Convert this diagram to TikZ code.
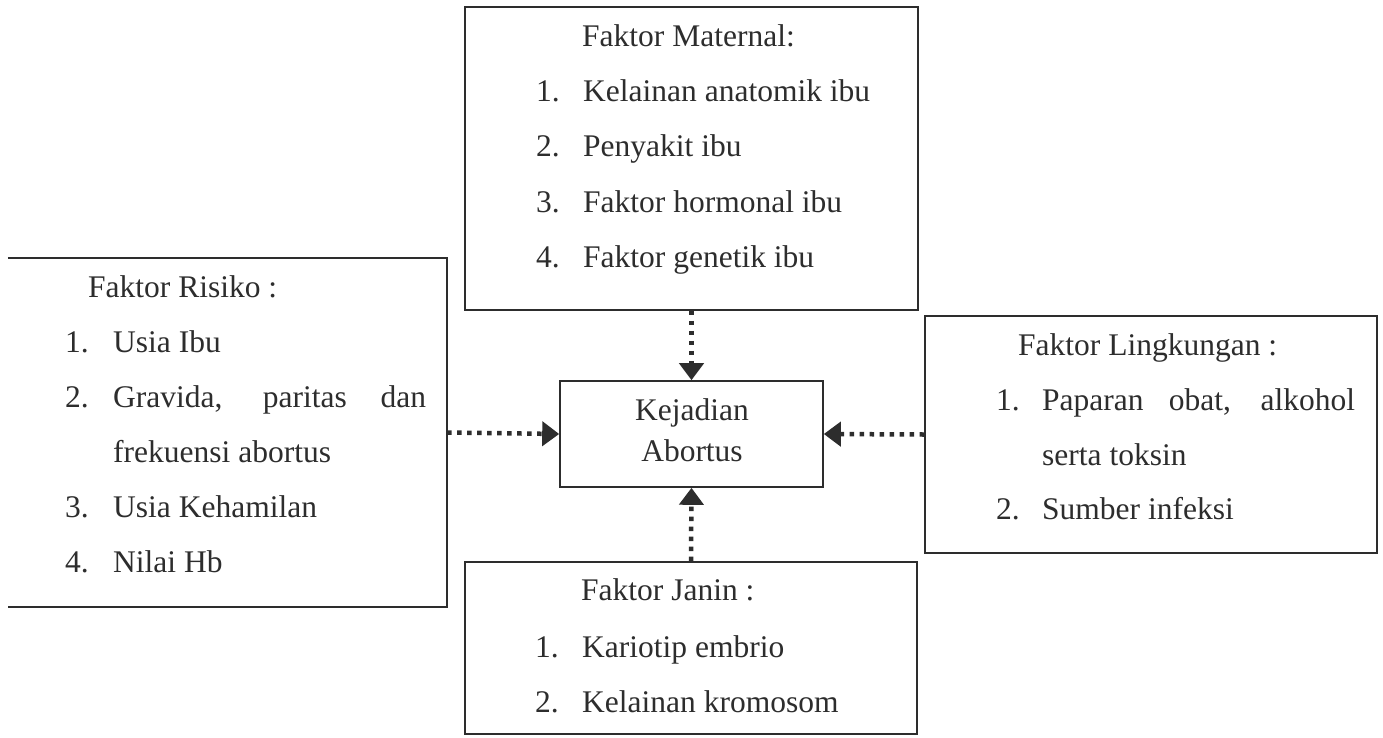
\documentclass[tikz,border=0pt]{standalone}
\usepackage{fontspec}
\setmainfont{Liberation Serif}
\usetikzlibrary{arrows.meta}
\definecolor{ink}{RGB}{45,45,45}
\begin{document}
\begin{tikzpicture}[x=1pt,y=-1pt,
  boxnode/.style={draw=ink,line width=1.6pt,rectangle,inner sep=0pt},
  txt/.style={anchor=base west,inner sep=0pt,text=ink,font=\fontsize{31.5pt}{40pt}\selectfont},
  ctxt/.style={anchor=base,inner sep=0pt,text=ink,font=\fontsize{31.5pt}{40pt}\selectfont},
  dotarrow/.style={draw=ink,line width=4.5pt,dash pattern=on 4.5pt off 5.5pt,
    -{Triangle[length=17pt,width=24pt,fill=ink]}}]
\useasboundingbox (0,0) rectangle (1383,737);
\fill[white] (0,0) rectangle (1383,737);
% boxes
\node[boxnode,minimum width=453pt,minimum height=303pt] (mat) at (691.5,158.5) {};
\node[inner sep=0pt,minimum width=439pt,minimum height=349pt] (risk) at (227.5,432.5) {};
\draw[ink,line width=1.6pt] (risk.north west) -- (risk.north east) -- (risk.south east) -- (risk.south west);
\node[boxnode,minimum width=263pt,minimum height=106pt] (ka) at (691.5,434) {};
\node[boxnode,minimum width=452pt,minimum height=237pt] (ling) at (1151,434.5) {};
\node[boxnode,minimum width=452pt,minimum height=172pt] (jan) at (691,648) {};
% centre text
\node[ctxt] (ka1) at (692,420) {Kejadian};
\node[ctxt] (ka2) at (692,461) {Abortus};
% maternal
\node[txt] (m0) at (582,46) {Faktor Maternal:};
\node[txt] (m1n) at (536,101) {1.};
\node[txt] (m1) at (583,101) {Kelainan anatomik ibu};
\node[txt] (m2n) at (536,156) {2.};
\node[txt] (m2) at (583,156) {Penyakit ibu};
\node[txt] (m3n) at (536,212) {3.};
\node[txt] (m3) at (583,212) {Faktor hormonal ibu};
\node[txt] (m4n) at (536,267) {4.};
\node[txt] (m4) at (583,267) {Faktor genetik ibu};
% risiko
\node[txt] (r0) at (88,297) {Faktor Risiko :};
\node[txt] (r1n) at (65,352) {1.};
\node[txt] (r1) at (113,352) {Usia Ibu};
\node[txt] (r2n) at (65,407) {2.};
\node[txt] (r2) at (113,407) {\makebox[313pt][s]{Gravida, paritas dan}};
\node[txt] (r2b) at (113,462) {frekuensi abortus};
\node[txt] (r3n) at (65,517) {3.};
\node[txt] (r3) at (113,517) {Usia Kehamilan};
\node[txt] (r4n) at (65,572) {4.};
\node[txt] (r4) at (113,572) {Nilai Hb};
% lingkungan
\node[txt] (l0) at (1018,355) {Faktor Lingkungan :};
\node[txt] (l1n) at (996,410) {1.};
\node[txt] (l1) at (1042,410) {\makebox[313pt][s]{Paparan obat, alkohol}};
\node[txt] (l1b) at (1042,465) {serta toksin};
\node[txt] (l2n) at (996,519) {2.};
\node[txt] (l2) at (1042,519) {Sumber infeksi};
% janin
\node[txt] (j0) at (581,600) {Faktor Janin :};
\node[txt] (j1n) at (535,657) {1.};
\node[txt] (j1) at (582,657) {Kariotip embrio};
\node[txt] (j2n) at (535,712) {2.};
\node[txt] (j2) at (582,712) {Kelainan kromosom};
% arrows
\draw[dotarrow] (mat.south) -- (ka.north);
\draw[dotarrow] (jan.north) -- (ka.south);
\draw[dotarrow] (risk.east) -- (ka.west);
\draw[dotarrow] (ling.west) -- (ka.east);
\end{tikzpicture}
\end{document}
